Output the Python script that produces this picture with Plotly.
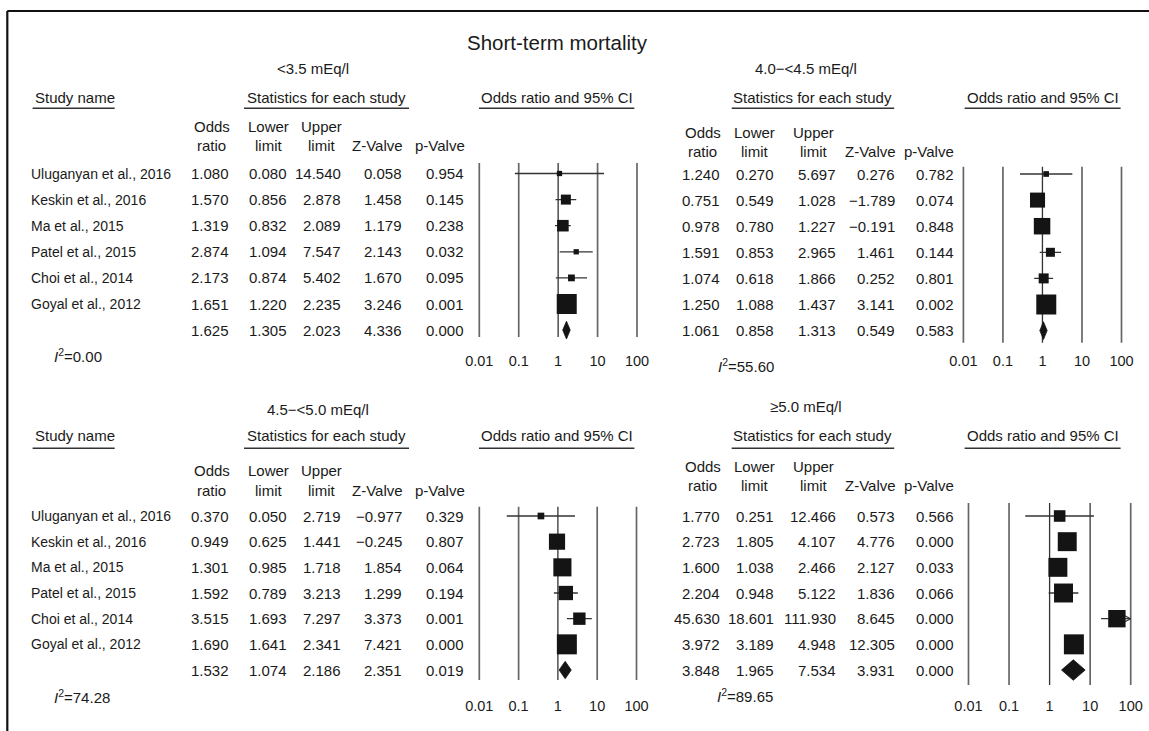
import plotly.graph_objects as go

W, H = 1149, 731
FONT = "Liberation Sans, Arial, Helvetica, sans-serif"
TXT = "#1a1a1a"

# ---------------- data ----------------
title = "Short-term mortality"
studies = ["Uluganyan et al., 2016", "Keskin et al., 2016", "Ma et al., 2015",
           "Patel et al., 2015", "Choi et al., 2014", "Goyal et al., 2012"]
tick_vals = [0.01, 0.1, 1, 10, 100]
tick_text = ["0.01", "0.1", "1", "10", "100"]

# <3.5 mEq/l  (last value = pooled estimate)
p1_name = "<3.5 mEq/l"
p1_or = [1.080, 1.570, 1.319, 2.874, 2.173, 1.651, 1.625]
p1_lo = [0.080, 0.856, 0.832, 1.094, 0.874, 1.220, 1.305]
p1_hi = [14.540, 2.878, 2.089, 7.547, 5.402, 2.235, 2.023]
p1_z = [0.058, 1.458, 1.179, 2.143, 1.670, 3.246, 4.336]
p1_p = [0.954, 0.145, 0.238, 0.032, 0.095, 0.001, 0.000]
p1_w = [3.8, 13.6, 18.2, 3.8, 6.3, 54.4]
p1_i2 = "0.00"

# 4.0-<4.5 mEq/l
p2_name = "4.0\u2212<4.5 mEq/l"
p2_or = [1.240, 0.751, 0.978, 1.591, 1.074, 1.250, 1.061]
p2_lo = [0.270, 0.549, 0.780, 0.853, 0.618, 1.088, 0.858]
p2_hi = [5.697, 1.028, 1.227, 2.965, 1.866, 1.437, 1.313]
p2_z = [0.276, -1.789, -0.191, 1.461, 0.252, 3.141, 0.549]
p2_p = [0.782, 0.074, 0.848, 0.144, 0.801, 0.002, 0.583]
p2_w = [2.9, 20.3, 24.5, 7.3, 9.0, 36.0]
p2_i2 = "55.60"

# 4.5-<5.0 mEq/l
p3_name = "4.5\u2212<5.0 mEq/l"
p3_or = [0.370, 0.949, 1.301, 1.592, 3.515, 1.690, 1.532]
p3_lo = [0.050, 0.625, 0.985, 0.789, 1.693, 1.641, 1.074]
p3_hi = [2.719, 1.441, 1.718, 3.213, 7.297, 2.341, 2.186]
p3_z = [-0.977, -0.245, 1.854, 1.299, 3.373, 7.421, 2.351]
p3_p = [0.329, 0.807, 0.064, 0.194, 0.001, 0.000, 0.019]
p3_w = [3.2, 18.8, 23.5, 14.7, 11.0, 28.7]
p3_i2 = "74.28"

# >=5.0 mEq/l
p4_name = "\u22655.0 mEq/l"
p4_or = [1.770, 2.723, 1.600, 2.204, 45.630, 3.972, 3.848]
p4_lo = [0.251, 1.805, 1.038, 0.948, 18.601, 3.189, 1.965]
p4_hi = [12.466, 4.107, 2.466, 5.122, 111.930, 4.948, 7.534]
p4_z = [0.573, 4.776, 2.127, 1.836, 8.645, 12.305, 3.931]
p4_p = [0.566, 0.000, 0.033, 0.066, 0.000, 0.000, 0.000]
p4_w = [7.0, 18.8, 18.8, 18.8, 15.8, 20.9]
p4_i2 = "89.65"

panels_data = [
    dict(name=p1_name, orr=p1_or, lo=p1_lo, hi=p1_hi, z=p1_z, p=p1_p, w=p1_w, i2=p1_i2),
    dict(name=p2_name, orr=p2_or, lo=p2_lo, hi=p2_hi, z=p2_z, p=p2_p, w=p2_w, i2=p2_i2),
    dict(name=p3_name, orr=p3_or, lo=p3_lo, hi=p3_hi, z=p3_z, p=p3_p, w=p3_w, i2=p3_i2),
    dict(name=p4_name, orr=p4_or, lo=p4_lo, hi=p4_hi, z=p4_z, p=p4_p, w=p4_w, i2=p4_i2),
]

# ---------------- layout geometry (pixels) ----------------
L_COLS = [230, 287.8, 342.2, 402.5, 465.4]
L_HDR = [212, 268, 321.5, 377, 440]
R_COLS = [720.8, 774.5, 837, 895.7, 954.5]
R_HDR = [702.7, 754, 814, 870, 929]

geo = [
    dict(x0=479.3, x1=637.0, row1=173.5, s=26.1, vl=(163, 337), tick_y=362.7,
         cols=L_COLS, hdr=L_HDR, hdr_y=(126, 145), sub=(312.6, 69),
         stats=(244, 409), orh=(479, 634.4), hy=(97.3, 108.3), i2=(51.8, 355.7),
         names=True, dh=0.34),
    dict(x0=963.4, x1=1121.5, row1=174.0, s=26.1, vl=(166.7, 342.7), tick_y=362.7,
         cols=R_COLS, hdr=R_HDR, hdr_y=(132.7, 151), sub=(805.6, 69),
         stats=(731.7, 894.2), orh=(964.6, 1120.6), hy=(97.3, 108.3), i2=(716, 365),
         names=False, dh=0.34),
    dict(x0=479.3, x1=636.5, row1=516.0, s=25.67, vl=(506.7, 680), tick_y=707.3,
         cols=L_COLS, hdr=L_HDR, hdr_y=(470.7, 490), sub=(318, 409),
         stats=(244, 409), orh=(479, 634.4), hy=(435.7, 448.3), i2=(51.8, 696.7),
         names=True, dh=0.34),
    dict(x0=968.5, x1=1130.7, row1=516.0, s=25.67, vl=(503, 685), tick_y=707.3,
         cols=R_COLS, hdr=R_HDR, hdr_y=(466, 485), sub=(806, 406.7),
         stats=(731.7, 894.2), orh=(964.6, 1120.6), hy=(435.7, 448.3), i2=(715, 695),
         names=False, dh=0.40),
]


def px(x):
    return x / W


def py(y):
    return 1 - y / H


def ann(text, x, y, size=15, xanchor="center", yanchor="middle"):
    return dict(text=text, x=px(x), y=py(y), xref="paper", yref="paper",
                showarrow=False, xanchor=xanchor, yanchor=yanchor,
                font=dict(size=size, color=TXT, family=FONT))


def hline(xa, xb, y, width=1.4, color="#333"):
    return dict(type="line", xref="paper", yref="paper", x0=px(xa), x1=px(xb),
                y0=py(y), y1=py(y), line=dict(color=color, width=width))


def fmt(v):
    return f"{v:.3f}".replace("-", "\u2212")


fig = go.Figure()
annotations = [ann(title, 557, 42.7, size=20.5)]
shapes = [
    dict(type="line", xref="paper", yref="paper", x0=px(7.3), x1=1, y0=py(11), y1=py(11),
         line=dict(color="#111", width=2.2)),
    dict(type="line", xref="paper", yref="paper", x0=px(7.3), x1=px(7.3), y0=py(11), y1=0,
         line=dict(color="#111", width=2.2)),
]

PAD = 0.35
YMIN, YMAX = 0.4, 8.6
MAXPX = 20.0
MARK = "#141414"
layout_axes = {}

for k, (d, g) in enumerate(zip(panels_data, geo)):
    idx = "" if k == 0 else str(k + 1)
    xname, yname = "x" + idx, "y" + idx
    dec = (g["x1"] - g["x0"]) / 4
    xdom = [px(g["x0"] - PAD * dec), px(g["x1"] + PAD * dec)]
    ytop = g["row1"] + (YMIN - 1) * g["s"]
    ybot = g["row1"] + (YMAX - 1) * g["s"]
    ydom = [py(ybot), py(ytop)]
    layout_axes["xaxis" + idx] = dict(type="log", range=[-2 - PAD, 2 + PAD], domain=xdom,
                                      visible=False, anchor=yname, fixedrange=True)
    layout_axes["yaxis" + idx] = dict(range=[YMAX, YMIN], domain=ydom, visible=False,
                                      anchor=xname, fixedrange=True)

    def row_of(ypx):
        return 1 + (ypx - g["row1"]) / g["s"]

    # reference lines at each decade
    for v in tick_vals:
        fig.add_trace(go.Scatter(
            x=[v, v], y=[row_of(g["vl"][0]), row_of(g["vl"][1])], mode="lines",
            line=dict(color="#333" if v == 1 else "#666", width=1.3 if v == 1 else 1.7),
            xaxis=xname, yaxis=yname, hoverinfo="skip", showlegend=False))

    n = len(studies)
    rows = list(range(1, n + 1))
    # confidence intervals (clipped at the plot limit 100)
    cx, cy = [], []
    arrows_x, arrows_y = [], []
    for i in range(n):
        hi = d["hi"][i]
        if hi > tick_vals[-1]:
            arrows_x.append(tick_vals[-1])
            arrows_y.append(rows[i])
            hi = tick_vals[-1]
        cx += [d["lo"][i], hi, None]
        cy += [rows[i], rows[i], None]
    fig.add_trace(go.Scatter(x=cx, y=cy, mode="lines", line=dict(color="#333", width=1.3),
                             xaxis=xname, yaxis=yname, hoverinfo="skip", showlegend=False))
    if arrows_x:
        fig.add_trace(go.Scatter(x=arrows_x, y=arrows_y, mode="markers",
                                 marker=dict(symbol="arrow-right-open", size=8, color="#333",
                                             opacity=1, line=dict(color="#333", width=1.2)),
                                 xaxis=xname, yaxis=yname, hoverinfo="skip",
                                 showlegend=False, cliponaxis=False))
    # weighted squares
    wmax = max(d["w"])
    sizes = [MAXPX * (w / wmax) ** 0.5 for w in d["w"]]
    fig.add_trace(go.Scatter(x=d["orr"][:n], y=rows, mode="markers",
                             marker=dict(symbol="square", size=sizes, color=MARK, opacity=1,
                                         line=dict(width=0)),
                             xaxis=xname, yaxis=yname, hoverinfo="skip",
                             showlegend=False, cliponaxis=False))
    # pooled diamond
    r = n + 1
    h = g["dh"]
    est, lo, hi = d["orr"][n], d["lo"][n], d["hi"][n]
    fig.add_trace(go.Scatter(x=[lo, est, hi, est, lo], y=[r, r - h, r, r + h, r],
                             mode="lines", fill="toself", fillcolor=MARK,
                             line=dict(color=MARK, width=0.8),
                             xaxis=xname, yaxis=yname, hoverinfo="skip", showlegend=False))
    # axis labels
    fig.add_trace(go.Scatter(x=tick_vals, y=[row_of(g["tick_y"])] * len(tick_vals),
                             mode="text", text=tick_text,
                             textfont=dict(size=14.5, color=TXT, family=FONT),
                             xaxis=xname, yaxis=yname, hoverinfo="skip",
                             showlegend=False, cliponaxis=False))

    # ---- text table ----
    annotations.append(ann(d["name"], g["sub"][0], g["sub"][1]))
    hy, uy = g["hy"]
    if g["names"]:
        annotations.append(ann("Study name", 32.6, hy, xanchor="left"))
        shapes.append(hline(32.6, 114.7, uy))
    sa, sb = g["stats"]
    annotations.append(ann("Statistics for each study", (sa + sb) / 2, hy))
    shapes.append(hline(sa, sb, uy))
    oa, ob = g["orh"]
    annotations.append(ann("Odds ratio and 95% CI", (oa + ob) / 2, hy))
    shapes.append(hline(oa, ob, uy))

    h1, h2 = g["hdr_y"]
    top_words = ["Odds", "Lower", "Upper"]
    bot_words = ["ratio", "limit", "limit", "Z-Valve", "p-Valve"]
    for j, wtxt in enumerate(top_words):
        annotations.append(ann(wtxt, g["hdr"][j], h1))
    for j, wtxt in enumerate(bot_words):
        annotations.append(ann(wtxt, g["hdr"][j], h2))

    cols = [d["orr"], d["lo"], d["hi"], d["z"], d["p"]]
    for i in range(n + 1):
        yrow = g["row1"] + i * g["s"]
        if g["names"] and i < n:
            annotations.append(ann(studies[i], 28.9, yrow, size=14, xanchor="left"))
        for j, c in enumerate(cols):
            annotations.append(ann(fmt(c[i]), g["cols"][j] + 1, yrow, xanchor="right"))

    annotations.append(ann(f"<i>I</i><sup>2</sup>={d['i2']}", g["i2"][0], g["i2"][1],
                           xanchor="left"))

fig.update_layout(
    width=W, height=H, margin=dict(l=0, r=0, t=0, b=0),
    paper_bgcolor="white", plot_bgcolor="rgba(0,0,0,0)",
    showlegend=False, hovermode=False,
    annotations=annotations, shapes=shapes,
    font=dict(family=FONT, color=TXT),
    **layout_axes,
)

fig.write_html("out.html", config={"displayModeBar": False})
